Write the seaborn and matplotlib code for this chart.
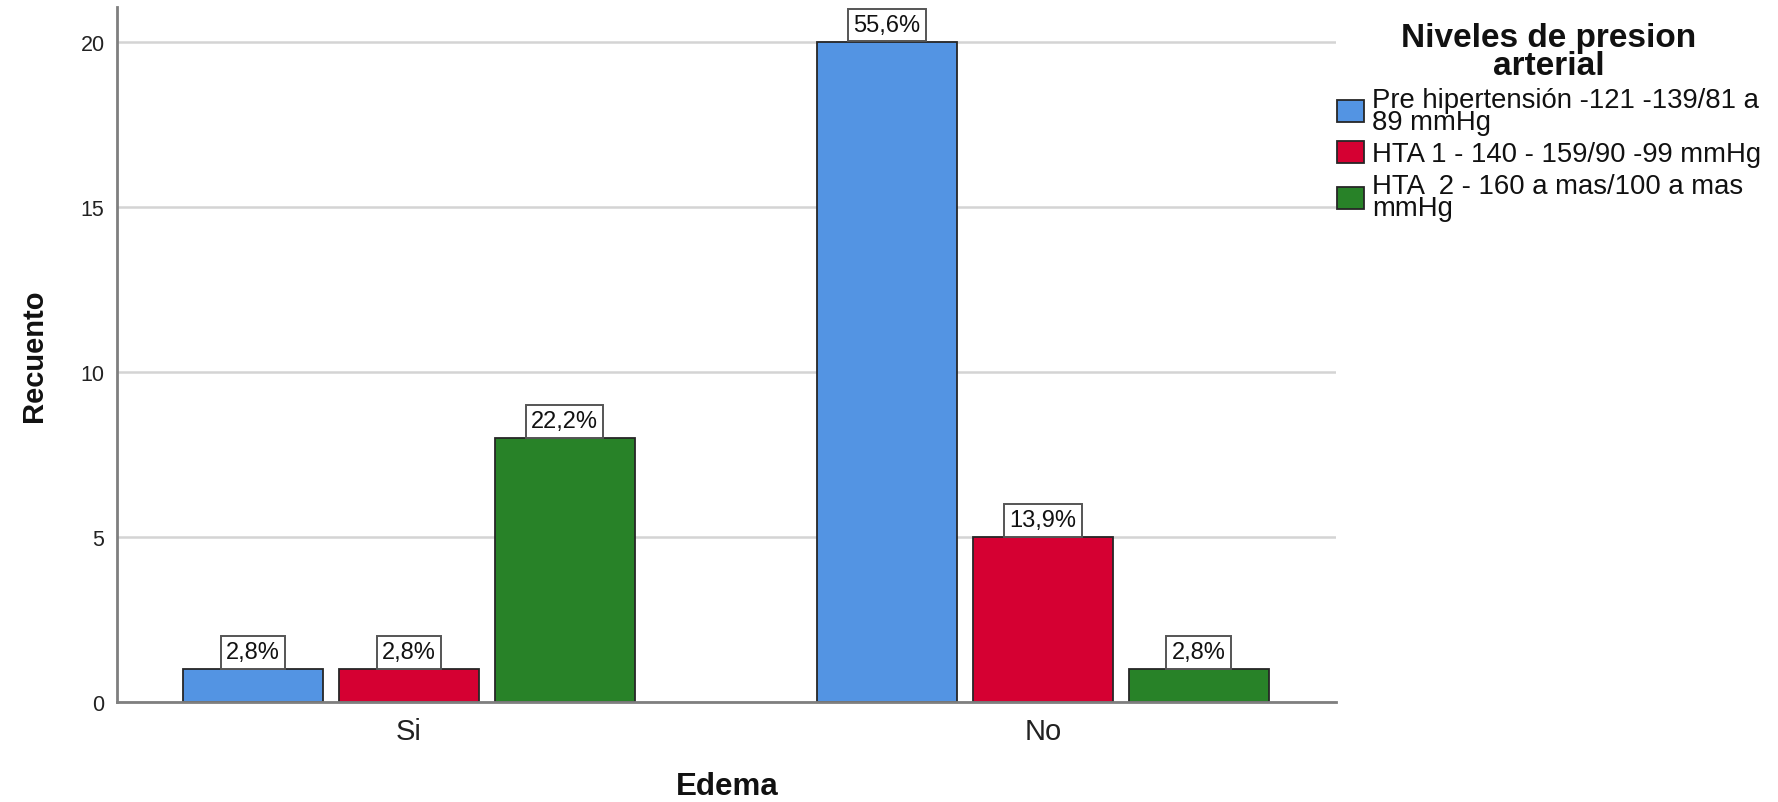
import matplotlib
matplotlib.use("Agg")
import matplotlib.pyplot as plt
from matplotlib.patches import Patch
import seaborn as sns
import pandas as pd

# Counts of patients by edema status and blood-pressure level
edema = ["Si", "No"]
niveles = [
    "Pre hipertensión -121 -139/81 a\n89 mmHg",
    "HTA 1 - 140 - 159/90 -99 mmHg",
    "HTA  2 - 160 a mas/100 a mas\nmmHg",
]
recuento_si = [1, 1, 8]
recuento_no = [20, 5, 1]
colores = ["#5394E3", "#D50032", "#288228"]
yticks = [0, 5, 10, 15, 20]

rows = []
for grupo, valores in zip(edema, [recuento_si, recuento_no]):
    for nivel, v in zip(niveles, valores):
        rows.append({"Edema": grupo, "Nivel": nivel, "Recuento": v})
df = pd.DataFrame(rows)
total = df["Recuento"].sum()

sns.set_theme(style="white")
plt.rcParams["font.family"] = ["Liberation Sans", "DejaVu Sans"]

fig = plt.figure(figsize=(17.78, 8.03), dpi=100)
ax = fig.add_axes([117 / 1778, 1 - 703 / 803, 1219 / 1778, 695 / 803])

ax.set_axisbelow(True)
ax.yaxis.grid(True, color="#d4d4d4", linewidth=1.8)
ax.xaxis.grid(False)

sns.barplot(
    data=df, x="Edema", y="Recuento", hue="Nivel",
    order=edema, hue_order=niveles, palette=colores, saturation=1,
    width=0.737, gap=0.1, edgecolor="#262626", linewidth=1.3,
    ax=ax, legend=False,
)

# Percentage boxes above each bar
for cont in ax.containers:
    for bar in cont:
        h = bar.get_height()
        x = bar.get_x() + bar.get_width() / 2
        pct = f"{h / total * 100:.1f}%".replace(".", ",")
        ax.annotate(
            pct, xy=(x, h), xytext=(0, 4), textcoords="offset points",
            ha="center", va="bottom", fontsize=17, color="#111111",
            bbox=dict(boxstyle="square,pad=0.22", fc="white", ec="#555555", lw=1.4),
            arrowprops=dict(arrowstyle="-", color="#444444", lw=1.0,
                            shrinkA=0, shrinkB=0),
            annotation_clip=False,
        )

ax.set_xlim(-0.4606, 1.4624)
ax.set_ylim(0, 21.05)
ax.set_yticks(yticks)
ax.set_yticklabels([str(t) for t in yticks])
ax.tick_params(axis="y", length=0, pad=9, labelsize=15.5, labelcolor="#222222")
ax.tick_params(axis="x", length=0, pad=11, labelsize=21, labelcolor="#222222")

for s in ["top", "right"]:
    ax.spines[s].set_visible(False)
for s in ["left", "bottom"]:
    ax.spines[s].set_color("#7f7f7f")
    ax.spines[s].set_linewidth(2.0)

ax.set_xlabel("Edema", fontsize=22.5, fontweight="bold", color="#111111")
ax.xaxis.set_label_coords(0.5008, -0.1)
ax.set_ylabel("Recuento", fontsize=21, fontweight="bold", color="#111111")
ax.yaxis.set_label_coords(-0.057, 0.5)

handles = [Patch(facecolor=c, edgecolor="#262626", linewidth=1.3) for c in colores]
leg = ax.legend(
    handles, niveles, title="Niveles de presion\narterial",
    loc="upper left", bbox_to_anchor=(1.0005, 0.978), frameon=False,
    borderaxespad=0, borderpad=0, fontsize=19.8,
    handlelength=1.0, handleheight=0.85, handletextpad=0.3,
    labelspacing=0.22,
    title_fontproperties={"weight": "bold", "size": 24},
)
for t in leg.get_texts():
    t.set_linespacing(0.8)
    t.set_color("#111111")
leg.get_title().set_linespacing(0.85)
leg.get_title().set_multialignment("center")
leg.get_title().set_color("#111111")

fig.savefig("out.png", dpi=100, facecolor="white")
